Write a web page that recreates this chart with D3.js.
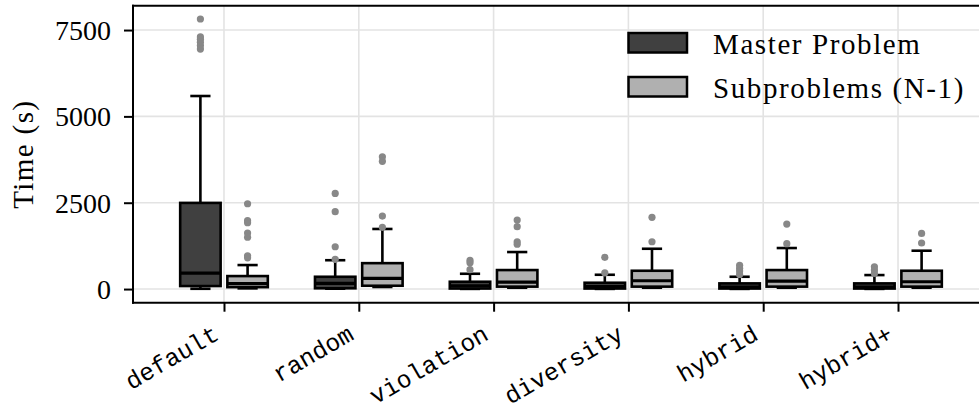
<!DOCTYPE html>
<html>
<head>
<meta charset="utf-8">
<script src="https://cdn.jsdelivr.net/npm/d3@7"></script>
<style>
  html, body { margin: 0; padding: 0; background: #fff; }
  svg { display: block; }
</style>
</head>
<body>
<svg id="chart" width="979" height="412"></svg>
<script>
// ---------- data ----------
const categories = ["default", "random", "violation", "diversity", "hybrid", "hybrid+"];
const seriesNames = ["Master Problem", "Subproblems (N-1)"];
const yTicks = [0, 2500, 5000, 7500];
const yLimits = [-395, 8205];

// [lower whisker, Q1, median, Q3, upper whisker]
const masterStats = [
  [8, 87, 460, 2495, 5590],
  [10, 22, 165, 356, 835],
  [5, 15, 96, 212, 443],
  [5, 15, 70, 183, 414],
  [5, 15, 60, 164, 356],
  [5, 15, 60, 164, 405]
];
const subStats = [
  [20, 55, 160, 376, 695],
  [60, 96, 310, 750, 1740],
  [38, 70, 203, 550, 1072],
  [38, 70, 240, 530, 1167],
  [38, 70, 232, 550, 1188],
  [38, 70, 212, 530, 1110]
];
const masterOutliers = [
  [7820, 7300, 7230, 7150, 7050, 6950],
  [2770, 2240, 1225, 860],
  [830, 760, 560],
  [918, 470],
  [686, 600, 521, 425],
  [646, 550, 454]
];
const subOutliers = [
  [2470, 1980, 1920, 1620, 1500, 965, 905],
  [3830, 3700, 2114, 1787],
  [2000, 1805, 1370, 1300],
  [2077, 1370],
  [1883, 1313],
  [1610, 1333]
];
const seriesFill = ["#404040", "#b0b0b0"];

// ---------- layout ----------
const svg = d3.select("#chart");
const plotL = 133, plotR = 989, plotT = 5.7, plotB = 302.7;

const x = d3.scalePoint().domain(categories).range([plotL, plotR]).padding(0.675);
const step = x.step();
const y = d3.scaleLinear().domain(yLimits).range([plotB, plotT]);

const serif = "'Liberation Serif', 'Times New Roman', serif";
const mono = "'Liberation Mono', 'DejaVu Sans Mono', monospace";

// grid
const grid = svg.append("g");
grid.selectAll("line.gx").data(categories).join("line")
  .attr("x1", d => x(d)).attr("x2", d => x(d))
  .attr("y1", plotT).attr("y2", plotB)
  .attr("stroke", "#e3e3e3").attr("stroke-width", 1.6);
grid.selectAll("line.gy").data(yTicks).join("line")
  .attr("x1", plotL).attr("x2", 979)
  .attr("y1", d => y(d)).attr("y2", d => y(d))
  .attr("stroke", "#e3e3e3").attr("stroke-width", 1.6);

// boxes
const offsets = [-0.175, 0.175];
const boxW = 0.30 * step;
const series = [
  { stats: masterStats, outs: masterOutliers },
  { stats: subStats, outs: subOutliers }
];
series.forEach((s, si) => {
  const g = svg.append("g");
  categories.forEach((c, ci) => {
    const cx = x(c) + offsets[si] * step;
    const [lo, q1, med, q3, hi] = s.stats[ci];
    const capW = boxW / 2;
    // whiskers
    g.append("line").attr("x1", cx).attr("x2", cx).attr("y1", y(q3)).attr("y2", y(hi))
      .attr("stroke", "#000").attr("stroke-width", 2.6);
    g.append("line").attr("x1", cx).attr("x2", cx).attr("y1", y(q1)).attr("y2", y(lo))
      .attr("stroke", "#000").attr("stroke-width", 2.6);
    g.append("line").attr("x1", cx - capW / 2).attr("x2", cx + capW / 2).attr("y1", y(hi)).attr("y2", y(hi))
      .attr("stroke", "#000").attr("stroke-width", 2.6);
    g.append("line").attr("x1", cx - capW / 2).attr("x2", cx + capW / 2).attr("y1", y(lo)).attr("y2", y(lo))
      .attr("stroke", "#000").attr("stroke-width", 2.6);
    // box
    g.append("rect").attr("x", cx - boxW / 2).attr("width", boxW)
      .attr("y", y(q3)).attr("height", Math.max(0.5, y(q1) - y(q3)))
      .attr("fill", seriesFill[si]).attr("stroke", "#000").attr("stroke-width", 2.6);
    // median
    g.append("line").attr("x1", cx - boxW / 2).attr("x2", cx + boxW / 2).attr("y1", y(med)).attr("y2", y(med))
      .attr("stroke", "#000").attr("stroke-width", 3.2);
    // outliers
    g.selectAll(null).data(s.outs[ci]).join("circle")
      .attr("cx", cx).attr("cy", d => y(d)).attr("r", 3.6)
      .attr("fill", "#888888");
  });
});

// spines
svg.append("line").attr("x1", plotL).attr("x2", plotL).attr("y1", plotT - 1).attr("y2", plotB + 1)
  .attr("stroke", "#000").attr("stroke-width", 2);
svg.append("line").attr("x1", plotL - 1).attr("x2", 979).attr("y1", plotB).attr("y2", plotB)
  .attr("stroke", "#000").attr("stroke-width", 2);
svg.append("line").attr("x1", plotL - 1).attr("x2", 979).attr("y1", plotT).attr("y2", plotT)
  .attr("stroke", "#000").attr("stroke-width", 2);

// y axis
const yAxis = d3.axisLeft(y).tickValues(yTicks).tickSize(9).tickPadding(13).tickFormat(d3.format("d"));
const ya = svg.append("g").attr("transform", `translate(${plotL},0)`).call(yAxis);
ya.select(".domain").remove();
ya.selectAll(".tick line").attr("stroke", "#000").attr("stroke-width", 2);
ya.selectAll(".tick text").attr("font-family", serif).attr("font-size", 28).attr("fill", "#000").attr("dy", "0.34em");

// x axis
const xAxis = d3.axisBottom(x).tickSize(9).tickPadding(0);
const xa = svg.append("g").attr("transform", `translate(0,${plotB})`).call(xAxis);
xa.select(".domain").remove();
xa.selectAll(".tick line").attr("stroke", "#000").attr("stroke-width", 2);
xa.selectAll(".tick text")
  .attr("font-family", mono).attr("font-size", 24.5).attr("fill", "#000")
  .attr("text-anchor", "end").attr("dy", null).attr("y", 0)
  .attr("transform", "translate(-4,36) rotate(-30)");

// y label
svg.append("text")
  .attr("transform", `translate(33,${(plotT + plotB) / 2}) rotate(-90)`)
  .attr("text-anchor", "middle")
  .attr("font-family", serif).attr("font-size", 29).attr("letter-spacing", 1.4)
  .text("Time (s)");

// legend
const leg = svg.append("g");
seriesNames.forEach((name, i) => {
  const yy = 33 + i * 44;
  leg.append("rect").attr("x", 628.5).attr("y", yy).attr("width", 58.5).attr("height", 19.5)
    .attr("fill", seriesFill[i]).attr("stroke", "#000").attr("stroke-width", 2.5);
  leg.append("text").attr("x", 713).attr("y", yy + 20.5)
    .attr("font-family", serif).attr("font-size", 29).attr("letter-spacing", 1.6)
    .attr("fill", "#000").text(name);
});
</script>
</body>
</html>
